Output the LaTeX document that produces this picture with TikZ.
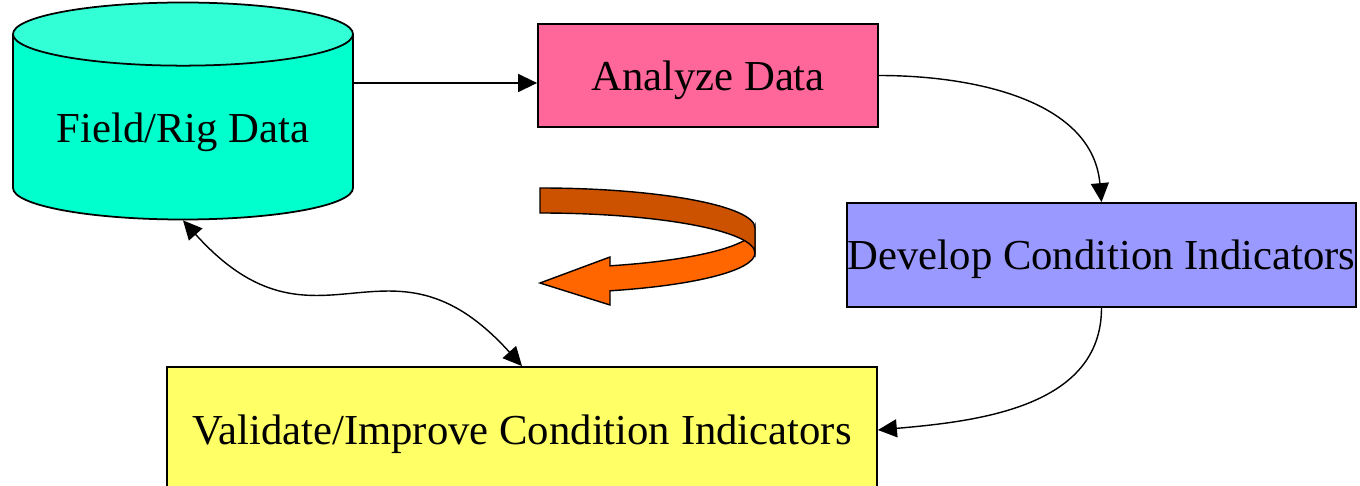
\documentclass[tikz,border=0pt]{standalone}
\usepackage{fontspec}
\setmainfont{Liberation Serif}
\usetikzlibrary{arrows.meta,shapes.geometric}

\definecolor{rigteal}{RGB}{0,255,204}
\definecolor{rigtop}{RGB}{51,255,214}
\definecolor{analyzepink}{RGB}{255,102,153}
\definecolor{developblue}{RGB}{153,153,255}
\definecolor{validateyellow}{RGB}{255,255,102}
\definecolor{loopdark}{RGB}{204,82,0}
\definecolor{looplight}{RGB}{255,102,0}

\begin{document}
\begin{tikzpicture}[x=0.2mm,y=0.2mm,
    box/.style={draw,line width=1pt,font=\fontsize{24.3}{28}\selectfont,inner sep=0pt,text depth=0pt},
    link/.style={line width=0.8pt,-{Triangle[length=3.8mm,width=3.6mm]}}]
  \useasboundingbox (0,0) rectangle (1360,-486);
  \clip (0,0) rectangle (1360,-486);
  \node[box,shape=cylinder,shape border rotate=90,aspect=0.25,minimum width=6.8cm,minimum height=4.34cm,
        cylinder uses custom fill,cylinder body fill=rigteal,cylinder end fill=rigtop,anchor=shape center] (field) at (183,-111) {Field/Rig Data};
  \node[box,fill=analyzepink,minimum width=6.8cm,minimum height=2.06cm] (analyze) at (708,-75.5) {Analyze Data};
  \node[box,fill=developblue,minimum width=10.18cm,minimum height=2.08cm] (develop) at (1101.5,-255) {Develop Condition Indicators};
  \node[box,fill=validateyellow,minimum width=14.2cm,minimum height=2.52cm] (validate) at (522,-430) {Validate/Improve Condition Indicators};
  \draw[link] (field.east |- 0,-83) -- (analyze.west |- 0,-83);
  \draw[link] (analyze.east) to[out=0,in=95] (develop.north);
  \draw[link] (develop.south) to[out=-90,in=5] (validate.east);
  \draw[link,{Triangle[length=3.8mm,width=3.6mm]}-{Triangle[length=3.8mm,width=3.6mm]}]
    (field.south) to[out=-48,in=132,looseness=1.4] (validate.north);
  \draw[fill=looplight,line width=0.8pt] (755,-228) arc[start angle=0,end angle=-71,x radius=215,y radius=40]
    -- (610,-257) -- (540,-283) -- (610,-305) -- (610,-290.8)
    arc[start angle=-71,end angle=0,x radius=215,y radius=40] -- cycle;
  \draw[fill=loopdark,line width=0.8pt] (540,-188) arc[start angle=90,end angle=0,x radius=215,y radius=40]
    -- (755,-253) arc[start angle=0,end angle=90,x radius=215,y radius=40] -- cycle;
\end{tikzpicture}
\end{document}
